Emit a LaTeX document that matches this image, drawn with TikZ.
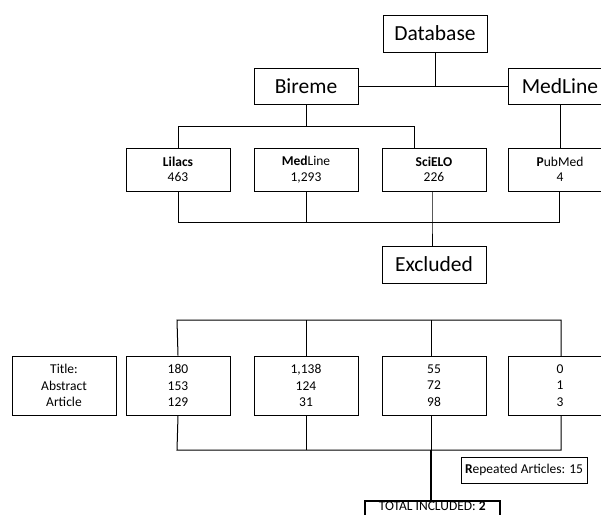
\documentclass[tikz,border=0pt]{standalone}
\usepackage{fontspec}
\setmainfont{Carlito}
\usepackage{tikz}
\usetikzlibrary{positioning}

\tikzset{
  bigbox/.style={align=center,draw,line width=1pt,minimum height=37pt,minimum width=104pt,
    font=\fontsize{21.5}{24}\selectfont},
  dbbox/.style={align=center,draw,line width=1pt,minimum height=43pt,minimum width=104pt,
    font=\fontsize{13.5}{15.5}\selectfont},
  countbox/.style={align=center,draw,line width=1pt,minimum height=59pt,minimum width=104pt,
    font=\fontsize{13.5}{16.5}\selectfont},
  link/.style={line width=1pt},
}

\begin{document}
\begin{tikzpicture}[x=1pt,y=-1pt]
  \useasboundingbox (0,0) rectangle (601,514);

  \node at (435,33.5) [bigbox] (database) {Database};
  \node at (306,86) [bigbox,minimum height=36pt] (bireme) {Bireme};
  \node at (560,86) [bigbox,minimum height=36pt] (medline) {MedLine};

  \node at (178,169.5) [dbbox] (lilacs) {\textbf{Lilacs}\\463};
  \node at (306,169.5) [dbbox] (medlinedb) {\textbf{Med}Line\\1,293};
  \node at (434,169.5) [dbbox] (scielo) {\textbf{SciELO}\\226};
  \node at (560,169.5) [dbbox] (pubmed) {\textbf{P}ubMed\\4};

  \node at (434,264.5) [bigbox] (excluded) {Excluded};

  \node at (64,385.5) [countbox] (labels) {Title:\\Abstract\\Article};
  \node at (178,385.5) [countbox] (lilacsn) {180\\153\\129};
  \node at (306,385.5) [countbox] (medlinen) {1,138\\124\\31};
  \node at (434,385.5) [countbox] (scielon) {55\\72\\98};
  \node at (560,385.5) [countbox] (pubmedn) {0\\1\\3};

  \node at (524,470) [draw,line width=1pt,minimum height=26pt,minimum width=126pt,
    font=\fontsize{13.5}{15.5}\selectfont] (repeated) {\textbf{R}epeated Articles: 15};
  \node at (364,500) [anchor=north west,draw,line width=1.6pt,minimum width=135pt,
    inner xsep=8pt,inner ysep=0.5pt,text depth=15pt,
    font=\fontsize{13.5}{16}\selectfont] (total) {TOTAL INCLUDED: \textbf{2}};

  % sources
  \draw[link] (database.south) -- (database.south |- bireme.east);
  \draw[link] (bireme.east) -- (medline.west);
  \draw[link] (bireme.south) -- (306,126);
  \draw[link] (lilacs.north) -- (178,126) -- (414,126) -- (414,148);
  \draw[link] (medline.south) -- (pubmed.north);

  % excluded
  \coordinate (exjoin) at (432,222);
  \draw[link] (lilacs.south) -- (178,222) -- (559,222) -- (559,191);
  \draw[link] (medlinedb.south) -- (306,222);
  \draw[link] (432,191) -- (exjoin) -- (exjoin |- excluded.north);

  % counts
  \draw[link] (lilacsn.north) -- (177,320) -- (561,320) -- (561,356);
  \draw[link] (306,320) -- (medlinen.north);
  \draw[link] (431,320) -- (431,356);
  \coordinate (totjoin) at (431,450);
  \draw[link] (lilacsn.south) -- (177,450) -- (561,450) -- (561,415);
  \draw[link] (306,415) -- (306,450);
  \draw[link] (431,415) -- (totjoin);
  \draw[line width=2pt] (totjoin) -- (totjoin |- total.north);
\end{tikzpicture}
\end{document}
